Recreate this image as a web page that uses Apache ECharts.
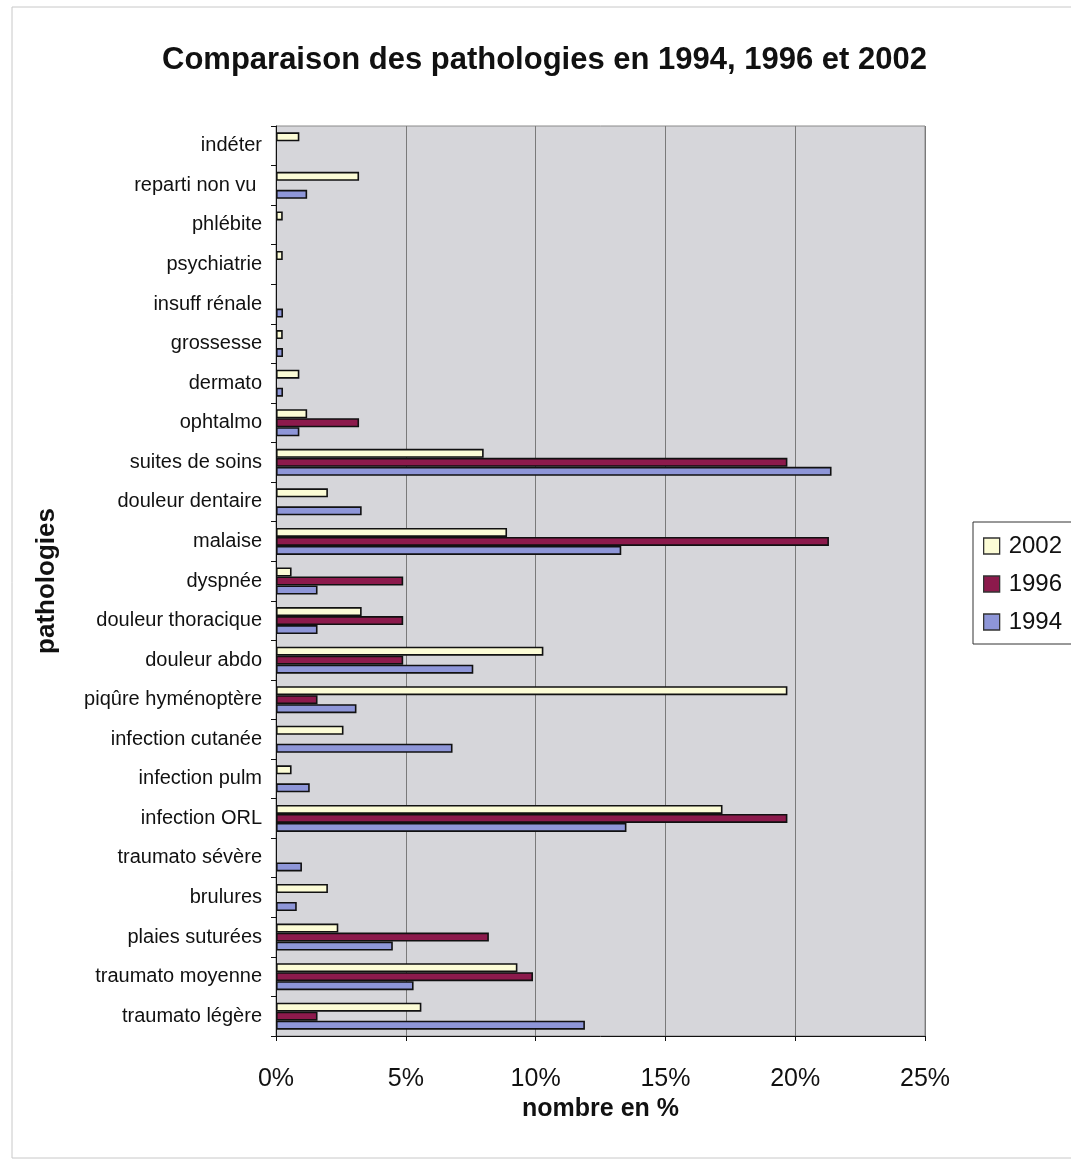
<!DOCTYPE html>
<html>
<head>
<meta charset="utf-8">
<script src="https://cdn.jsdelivr.net/npm/echarts@6/dist/echarts.min.js"></script>
<style>
  html, body { margin: 0; padding: 0; background: #fff; }
  #chart { width: 1071px; height: 1160px; }
</style>
</head>
<body>
<div id="chart"></div>
<script>
// categories listed top to bottom, as in the picture
const categories = [
  "indéter", "reparti non vu ", "phlébite", "psychiatrie", "insuff rénale",
  "grossesse", "dermato", "ophtalmo", "suites de soins", "douleur dentaire",
  "malaise", "dyspnée", "douleur thoracique", "douleur abdo", "piqûre hyménoptère",
  "infection cutanée", "infection pulm", "infection ORL", "traumato sévère",
  "brulures", "plaies suturées", "traumato moyenne", "traumato légère"
];
const v2002 = [0.9, 3.2, 0.26, 0.26, null, 0.26, 0.9, 1.2, 8.0, 2.0, 8.9, 0.6, 3.3, 10.3, 19.7, 2.6, 0.6, 17.2, null, 2.0, 2.4, 9.3, 5.6];
const v1996 = [null, null, null, null, null, null, null, 3.2, 19.7, null, 21.3, 4.9, 4.9, 4.9, 1.6, null, null, 19.7, null, null, 8.2, 9.9, 1.6];
const v1994 = [null, 1.2, null, null, 0.27, 0.27, 0.27, 0.9, 21.4, 3.3, 13.3, 1.6, 1.6, 7.6, 3.1, 6.8, 1.3, 13.5, 1.0, 0.8, 4.5, 5.3, 11.9];
const seriesNames = ["2002", "1996", "1994"];
const colors = ["#fcfcd6", "#8c1a4c", "#8e96d8"];

const font = "Liberation Sans, Arial, sans-serif";
const chart = echarts.init(document.getElementById("chart"));

function bar(name, data, color) {
  return {
    name: name,
    type: "bar",
    data: data,
    barWidth: 9,
    barGap: "0%",
    itemStyle: { color: color, borderColor: "#111", borderWidth: 1.6 },
    emphasis: { disabled: true },
  };
}

chart.setOption({
  animation: false,
  textStyle: { fontFamily: font },
  title: {
    text: "Comparaison des pathologies en 1994, 1996 et 2002",
    left: 157,
    top: 40,
    textStyle: { fontSize: 31, fontWeight: "bold", color: "#111", fontFamily: font },
  },
  graphic: [
    {
      type: "rect",
      shape: { x: 12, y: 7, width: 1070, height: 1151 },
      style: { fill: "none", stroke: "#c8c8c8", lineWidth: 1 },
      silent: true,
    },
  ],
  legend: {
    orient: "vertical",
    left: 973,
    top: 522,
    data: seriesNames,
    icon: "rect",
    itemWidth: 16,
    itemHeight: 16,
    itemGap: 14,
    padding: [12, 30, 10, 10],
    borderColor: "#333",
    borderWidth: 1,
    backgroundColor: "#fff",
    itemStyle: { borderColor: "#333", borderWidth: 1.3 },
    textStyle: { fontSize: 24, color: "#111", fontFamily: font, padding: [0, 0, 0, 4] },
  },
  grid: {
    left: 276,
    top: 126,
    right: 146,
    bottom: 124,
    show: true,
    backgroundColor: "#d6d6da",
    borderColor: "#8a8a8a",
    borderWidth: 1,
  },
  xAxis: {
    type: "value",
    min: 0,
    max: 25,
    interval: 5,
    name: "nombre en %",
    nameLocation: "middle",
    nameGap: 45,
    nameTextStyle: { fontSize: 25, fontWeight: "bold", color: "#111", fontFamily: font },
    axisLine: { show: true, lineStyle: { color: "#111" } },
    axisTick: { show: true, length: 5, lineStyle: { color: "#111" } },
    axisLabel: { formatter: "{value}%", fontSize: 25, color: "#111", margin: 31 },
    splitLine: { show: true, lineStyle: { color: "#7a7a7a", width: 1 } },
  },
  yAxis: {
    type: "category",
    inverse: true,
    data: categories,
    name: "pathologies",
    nameLocation: "middle",
    nameGap: 216,
    nameTextStyle: { fontSize: 26, fontWeight: "bold", color: "#111", fontFamily: font },
    axisLine: { show: true, lineStyle: { color: "#111" } },
    axisTick: { show: true, length: 5, lineStyle: { color: "#111" } },
    axisLabel: { fontSize: 20, color: "#111", margin: 14 },
    splitLine: { show: false },
  },
  series: [
    bar(seriesNames[0], v2002, colors[0]),
    bar(seriesNames[1], v1996, colors[1]),
    bar(seriesNames[2], v1994, colors[2]),
  ],
});
</script>
</body>
</html>
